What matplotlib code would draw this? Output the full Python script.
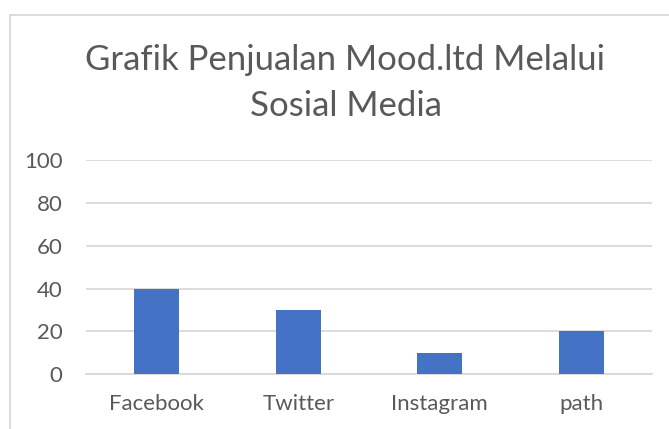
import matplotlib
matplotlib.use("Agg")
import matplotlib.pyplot as plt
from matplotlib.patches import Rectangle

categories = ["Facebook", "Twitter", "Instagram", "path"]
values = [40, 30, 10, 20]
yticks = [0, 20, 40, 60, 80, 100]
title = "Grafik Penjualan Mood.ltd Melalui\nSosial Media"

W, H = 669, 429
fig = plt.figure(figsize=(W / 100, H / 100), dpi=100)
plt.rcParams['font.family'] = ['Lato', 'DejaVu Sans']
text_color = "#595959"

# chart border
fig.patches.append(Rectangle((9.5 / W, -0.1), 1.2, 1 - 15 / H + 0.1, transform=fig.transFigure,
                             fill=False, edgecolor="#d9d9d9", linewidth=1.3))

left, right = 86 / W, 652 / W
bottom, top = (H - 374.3) / H, (H - 160) / H
ax = fig.add_axes([left, bottom, right - left, top - bottom])
x = range(len(categories))
ax.bar(x, values, width=0.316, color="#4472C4", zorder=3)
ax.set_xlim(-0.5, len(categories) - 0.5)
ax.set_ylim(0, 100)
ax.set_yticks(yticks)
ax.set_yticklabels([str(v) for v in yticks])
ax.set_xticks(list(x))
ax.set_xticklabels(categories)
ax.grid(axis="y", color="#d9d9d9", linewidth=1.3, zorder=0)
for s in ["top", "right", "left"]:
    ax.spines[s].set_visible(False)
ax.spines["bottom"].set_color("#d9d9d9")
ax.spines["bottom"].set_linewidth(1.3)
ax.tick_params(axis="both", length=0, colors=text_color, labelsize=16)
ax.tick_params(axis="y", pad=17)
ax.tick_params(axis="x", pad=14)

fig.text(345 / W, 1 - 60 / H, "Grafik Penjualan Mood.ltd Melalui", ha="center", va="center",
         fontsize=25, color=text_color)
fig.text(346 / W, 1 - 106 / H, "Sosial Media", ha="center", va="center",
         fontsize=25, color=text_color)

fig.savefig("out.png", dpi=100)
